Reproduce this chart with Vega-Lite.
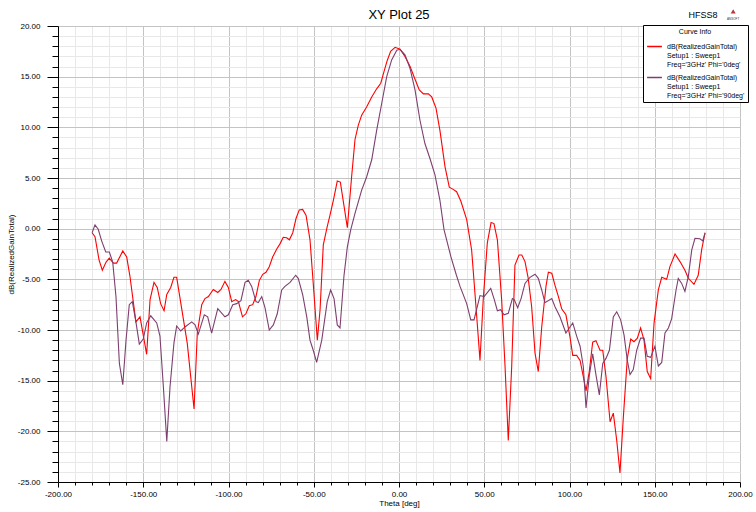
{
  "$schema": "https://vega.github.io/schema/vega-lite/v6.json",
  "width": 682,
  "height": 456,
  "autosize": {"type": "none"},
  "padding": {"left": 58, "top": 26, "right": 16, "bottom": 30},
  "background": "#ffffff",
  "config": {
    "view": {"stroke": null},
    "font": "Liberation Sans",
    "axis": {"labelFont": "Liberation Sans", "titleFont": "Liberation Sans", "labelColor": "#000000", "titleColor": "#000000", "titleFontWeight": "normal", "domainColor": "#000000", "tickColor": "#000000", "labelOverlap": false, "labelFlush": false}
  },
  "datasets": {
    "phi0": [
      {"theta":-180,"gain":-0.4},{"theta":-178.3,"gain":-0.8},{"theta":-175.9,"gain":-3.1},{"theta":-174,"gain":-4.1},{"theta":-171.8,"gain":-3.3},{"theta":-169.9,"gain":-2.9},{"theta":-167.5,"gain":-3.4},{"theta":-165.6,"gain":-3.4},{"theta":-162,"gain":-2.2},{"theta":-159.7,"gain":-2.8},{"theta":-157.8,"gain":-4.7},{"theta":-154.3,"gain":-9.2},{"theta":-151.9,"gain":-8.7},{"theta":-148,"gain":-12.4},{"theta":-146,"gain":-7.0},{"theta":-143.7,"gain":-5.3},{"theta":-141.8,"gain":-5.8},{"theta":-139.8,"gain":-7.4},{"theta":-137.8,"gain":-8.1},{"theta":-136.2,"gain":-6.5},{"theta":-133.9,"gain":-5.8},{"theta":-132,"gain":-4.8},{"theta":-130.4,"gain":-4.8},{"theta":-124.2,"gain":-11.3},{"theta":-120.2,"gain":-17.8},{"theta":-118.3,"gain":-10.3},{"theta":-115.7,"gain":-7.5},{"theta":-113.8,"gain":-6.9},{"theta":-111.8,"gain":-6.7},{"theta":-108.9,"gain":-6.0},{"theta":-106.3,"gain":-6.3},{"theta":-104.4,"gain":-6.0},{"theta":-102.1,"gain":-5.2},{"theta":-100.1,"gain":-5.8},{"theta":-98.1,"gain":-7.2},{"theta":-95.8,"gain":-7.0},{"theta":-94.2,"gain":-7.2},{"theta":-91.8,"gain":-8.7},{"theta":-89.8,"gain":-8.4},{"theta":-87.8,"gain":-7.6},{"theta":-85.8,"gain":-7.5},{"theta":-83.9,"gain":-6.7},{"theta":-81.9,"gain":-5.1},{"theta":-79.9,"gain":-4.5},{"theta":-78,"gain":-4.3},{"theta":-76.1,"gain":-3.75},{"theta":-74.1,"gain":-2.8},{"theta":-71.7,"gain":-2.0},{"theta":-69.8,"gain":-1.5},{"theta":-67.9,"gain":-0.85},{"theta":-65.9,"gain":-0.9},{"theta":-64.3,"gain":-1.1},{"theta":-62.3,"gain":-0.4},{"theta":-60.4,"gain":1.0},{"theta":-58.5,"gain":1.85},{"theta":-56.5,"gain":1.9},{"theta":-54.5,"gain":1.3},{"theta":-52.2,"gain":-1.1},{"theta":-50.3,"gain":-5.4},{"theta":-47.9,"gain":-11.0},{"theta":-46.3,"gain":-8.0},{"theta":-44.4,"gain":-1.6},{"theta":-42.1,"gain":0.2},{"theta":-40.5,"gain":1.3},{"theta":-38.5,"gain":2.8},{"theta":-36.2,"gain":4.7},{"theta":-34.4,"gain":4.6},{"theta":-32.3,"gain":2.3},{"theta":-30.3,"gain":0.1},{"theta":-27.8,"gain":5.1},{"theta":-25.8,"gain":8.8},{"theta":-23.9,"gain":10.2},{"theta":-21.9,"gain":11.2},{"theta":-19,"gain":12.0},{"theta":-16,"gain":13.0},{"theta":-13.1,"gain":13.8},{"theta":-10.7,"gain":14.35},{"theta":-8.8,"gain":15.5},{"theta":-6.9,"gain":16.6},{"theta":-4.9,"gain":17.5},{"theta":-2.3,"gain":17.9},{"theta":0.6,"gain":17.7},{"theta":3.5,"gain":17.0},{"theta":6.5,"gain":16.0},{"theta":9.4,"gain":14.75},{"theta":11.9,"gain":13.7},{"theta":14.3,"gain":13.3},{"theta":17.2,"gain":13.3},{"theta":19.2,"gain":13.0},{"theta":21.7,"gain":11.9},{"theta":24,"gain":9.7},{"theta":27,"gain":6.1},{"theta":29.5,"gain":4.1},{"theta":31.5,"gain":3.9},{"theta":33.8,"gain":3.65},{"theta":36.3,"gain":2.7},{"theta":39.7,"gain":0.9},{"theta":42.6,"gain":-2.1},{"theta":45.6,"gain":-8.7},{"theta":47.5,"gain":-13.0},{"theta":49.4,"gain":-7.0},{"theta":51.8,"gain":-1.4},{"theta":54,"gain":0.6},{"theta":55.7,"gain":0.5},{"theta":57.7,"gain":-1.1},{"theta":60.2,"gain":-7.0},{"theta":62.2,"gain":-13.6},{"theta":64.1,"gain":-20.9},{"theta":66.1,"gain":-13.6},{"theta":68,"gain":-3.6},{"theta":70.4,"gain":-2.6},{"theta":72,"gain":-2.6},{"theta":73.9,"gain":-3.25},{"theta":75.8,"gain":-4.9},{"theta":77.8,"gain":-7.7},{"theta":79.8,"gain":-12.3},{"theta":81.7,"gain":-14.1},{"theta":83.7,"gain":-9.7},{"theta":86.2,"gain":-5.7},{"theta":87.6,"gain":-4.3},{"theta":89.6,"gain":-4.4},{"theta":91.5,"gain":-5.6},{"theta":93.5,"gain":-6.7},{"theta":95.4,"gain":-7.9},{"theta":97.9,"gain":-8.5},{"theta":100.3,"gain":-10.7},{"theta":101.9,"gain":-12.5},{"theta":104.2,"gain":-12.5},{"theta":106.2,"gain":-13.0},{"theta":108.1,"gain":-14.6},{"theta":109.7,"gain":-16.0},{"theta":111.6,"gain":-14.1},{"theta":113.6,"gain":-11.2},{"theta":115.5,"gain":-11.05},{"theta":117.9,"gain":-12.0},{"theta":119.5,"gain":-12.0},{"theta":121.4,"gain":-14.6},{"theta":123.8,"gain":-19.05},{"theta":125.7,"gain":-18.2},{"theta":127.7,"gain":-20.9},{"theta":129.6,"gain":-24.1},{"theta":131.6,"gain":-18.55},{"theta":133.9,"gain":-12.8},{"theta":135.9,"gain":-10.9},{"theta":137.8,"gain":-11.15},{"theta":139.8,"gain":-10.8},{"theta":141.7,"gain":-9.8},{"theta":143.7,"gain":-11.0},{"theta":145.6,"gain":-14.1},{"theta":147.6,"gain":-14.8},{"theta":149.6,"gain":-9.3},{"theta":152.1,"gain":-6.05},{"theta":154.1,"gain":-4.8},{"theta":157,"gain":-5.0},{"theta":158.9,"gain":-3.75},{"theta":161.9,"gain":-2.5},{"theta":164.8,"gain":-3.25},{"theta":167.7,"gain":-4.1},{"theta":169.7,"gain":-4.9},{"theta":173,"gain":-5.5},{"theta":175.5,"gain":-4.6},{"theta":177.5,"gain":-2.1},{"theta":179.5,"gain":-0.4}
    ],
    "phi90": [
      {"theta":-180,"gain":-0.4},{"theta":-178.3,"gain":0.37},{"theta":-176.4,"gain":-0.06},{"theta":-174.4,"gain":-1.2},{"theta":-172,"gain":-2.3},{"theta":-169.9,"gain":-2.3},{"theta":-167.9,"gain":-3.3},{"theta":-166,"gain":-6.7},{"theta":-164,"gain":-13.3},{"theta":-162,"gain":-15.4},{"theta":-160.1,"gain":-11.0},{"theta":-158.2,"gain":-7.5},{"theta":-156.4,"gain":-7.2},{"theta":-154.3,"gain":-9.2},{"theta":-152.3,"gain":-11.4},{"theta":-150,"gain":-10.9},{"theta":-148,"gain":-9.3},{"theta":-145.6,"gain":-8.6},{"theta":-142.1,"gain":-9.3},{"theta":-140.2,"gain":-10.6},{"theta":-138.2,"gain":-15.6},{"theta":-136.2,"gain":-21.0},{"theta":-134.3,"gain":-15.6},{"theta":-132,"gain":-11.3},{"theta":-130.4,"gain":-9.6},{"theta":-128,"gain":-10.1},{"theta":-125.5,"gain":-9.7},{"theta":-121.6,"gain":-9.2},{"theta":-119.6,"gain":-9.5},{"theta":-117.7,"gain":-10.4},{"theta":-114.2,"gain":-8.5},{"theta":-112.2,"gain":-8.7},{"theta":-109.9,"gain":-10.3},{"theta":-106.3,"gain":-7.9},{"theta":-102.1,"gain":-8.7},{"theta":-100.1,"gain":-8.5},{"theta":-97.5,"gain":-7.5},{"theta":-95.2,"gain":-7.4},{"theta":-92.7,"gain":-7.1},{"theta":-90.3,"gain":-5.3},{"theta":-88.4,"gain":-5.1},{"theta":-86.4,"gain":-5.7},{"theta":-83.9,"gain":-7.2},{"theta":-82.5,"gain":-7.3},{"theta":-80.5,"gain":-6.7},{"theta":-78.6,"gain":-7.8},{"theta":-76.1,"gain":-10.0},{"theta":-73.7,"gain":-9.5},{"theta":-71.4,"gain":-8.4},{"theta":-68.8,"gain":-6.05},{"theta":-66.9,"gain":-5.7},{"theta":-63.9,"gain":-5.3},{"theta":-60.6,"gain":-4.6},{"theta":-59.1,"gain":-4.9},{"theta":-56.5,"gain":-6.5},{"theta":-54.1,"gain":-8.7},{"theta":-52.2,"gain":-11.0},{"theta":-50.3,"gain":-12.0},{"theta":-48.3,"gain":-13.2},{"theta":-45.3,"gain":-11.0},{"theta":-42.1,"gain":-7.2},{"theta":-40.1,"gain":-6.05},{"theta":-38.1,"gain":-6.9},{"theta":-36.2,"gain":-9.5},{"theta":-34.6,"gain":-9.8},{"theta":-32.3,"gain":-4.7},{"theta":-30.3,"gain":-1.8},{"theta":-28.3,"gain":-0.1},{"theta":-25.8,"gain":1.5},{"theta":-21.9,"gain":3.8},{"theta":-19,"gain":5.1},{"theta":-16,"gain":6.8},{"theta":-13.1,"gain":9.7},{"theta":-10.1,"gain":12.4},{"theta":-7.2,"gain":15.0},{"theta":-4.3,"gain":16.65},{"theta":-1.3,"gain":17.6},{"theta":0.6,"gain":17.7},{"theta":3.5,"gain":17.15},{"theta":6.5,"gain":15.8},{"theta":9.4,"gain":13.7},{"theta":12.3,"gain":10.7},{"theta":15.2,"gain":8.4},{"theta":18.2,"gain":6.9},{"theta":21.1,"gain":5.3},{"theta":24,"gain":2.8},{"theta":26.4,"gain":-0.1},{"theta":30.5,"gain":-2.8},{"theta":33.5,"gain":-4.5},{"theta":35.8,"gain":-5.7},{"theta":39.7,"gain":-7.4},{"theta":42.1,"gain":-9.0},{"theta":44,"gain":-9.0},{"theta":47.5,"gain":-6.6},{"theta":49.9,"gain":-6.7},{"theta":53.8,"gain":-5.9},{"theta":55.9,"gain":-7.0},{"theta":57.7,"gain":-8.1},{"theta":59.6,"gain":-8.0},{"theta":61.6,"gain":-8.5},{"theta":64.1,"gain":-8.35},{"theta":66.5,"gain":-6.9},{"theta":67.6,"gain":-7.0},{"theta":69.6,"gain":-7.8},{"theta":71.6,"gain":-6.9},{"theta":73.9,"gain":-5.4},{"theta":76.8,"gain":-4.8},{"theta":79.8,"gain":-4.5},{"theta":81.7,"gain":-4.9},{"theta":83.7,"gain":-6.05},{"theta":85.6,"gain":-7.3},{"theta":89.6,"gain":-6.9},{"theta":91.5,"gain":-7.7},{"theta":94.4,"gain":-8.7},{"theta":97.9,"gain":-10.3},{"theta":100.3,"gain":-9.7},{"theta":101.9,"gain":-9.3},{"theta":104.2,"gain":-10.6},{"theta":106.2,"gain":-11.6},{"theta":108.1,"gain":-13.6},{"theta":109.7,"gain":-17.7},{"theta":111.6,"gain":-14.5},{"theta":113.6,"gain":-12.35},{"theta":115.5,"gain":-14.4},{"theta":117.5,"gain":-16.4},{"theta":119.5,"gain":-13.3},{"theta":121.4,"gain":-12.8},{"theta":123.4,"gain":-12.0},{"theta":125.7,"gain":-8.7},{"theta":127.7,"gain":-8.2},{"theta":130,"gain":-9.0},{"theta":132,"gain":-10.5},{"theta":133.9,"gain":-13.0},{"theta":135.5,"gain":-14.4},{"theta":137.4,"gain":-13.9},{"theta":139.4,"gain":-12.0},{"theta":141.7,"gain":-10.8},{"theta":143.7,"gain":-10.8},{"theta":145.6,"gain":-12.6},{"theta":147.6,"gain":-12.7},{"theta":150.1,"gain":-11.6},{"theta":152.1,"gain":-13.55},{"theta":154.1,"gain":-13.2},{"theta":156,"gain":-10.3},{"theta":158,"gain":-9.8},{"theta":159.9,"gain":-8.9},{"theta":162.5,"gain":-6.05},{"theta":163.8,"gain":-4.9},{"theta":165.8,"gain":-5.4},{"theta":167.7,"gain":-6.2},{"theta":169.7,"gain":-4.7},{"theta":171.7,"gain":-2.1},{"theta":173.6,"gain":-0.95},{"theta":176.5,"gain":-1.0},{"theta":178.1,"gain":-1.2},{"theta":179.5,"gain":-0.45}
    ]
  },
  "encoding": {
    "x": {
      "type": "quantitative",
      "scale": {"domain": [-200, 200], "nice": false, "zero": false},
      "axis": {
        "title": "Theta [deg]", "titleFontSize": 8, "titlePadding": 1,
        "values": [-200,-190,-180,-170,-160,-150,-140,-130,-120,-110,-100,-90,-80,-70,-60,-50,-40,-30,-20,-10,0,10,20,30,40,50,60,70,80,90,100,110,120,130,140,150,160,170,180,190,200],
        "grid": true,
        "gridColor": {"condition": {"test": "datum.value % 50 === 0", "value": "#c4c4c4"}, "value": "#e8e8e8"},
        "tickSize": {"condition": {"test": "datum.value % 50 === 0", "value": 5}, "value": 3},
        "labelExpr": "datum.value % 50 === 0 ? (datum.value < 0 ? '-' : '') + format(abs(datum.value), '.2f') : ''",
        "labelFontSize": 8, "labelPadding": 3
      }
    },
    "y": {
      "type": "quantitative",
      "scale": {"domain": [-25, 20], "nice": false, "zero": false},
      "axis": {
        "title": "dB(RealizedGainTotal)", "titleFontSize": 8, "titlePadding": 2,
        "values": [-25,-24,-23,-22,-21,-20,-19,-18,-17,-16,-15,-14,-13,-12,-11,-10,-9,-8,-7,-6,-5,-4,-3,-2,-1,0,1,2,3,4,5,6,7,8,9,10,11,12,13,14,15,16,17,18,19,20],
        "grid": true,
        "gridColor": {"condition": {"test": "datum.value % 5 === 0", "value": "#c4c4c4"}, "value": "#e8e8e8"},
        "tickSize": {"condition": {"test": "datum.value % 5 === 0", "value": 11}, "value": 6},
        "labelExpr": "datum.value % 5 === 0 ? (datum.value < 0 ? '-' : '') + format(abs(datum.value), '.2f') : ''",
        "labelFontSize": 8, "labelPadding": 7
      }
    }
  },
  "layer": [
    {
      "data": {"name": "phi0"},
      "mark": {"type": "line", "strokeWidth": 1.1},
      "encoding": {
        "x": {"field": "theta", "type": "quantitative"},
        "y": {"field": "gain", "type": "quantitative"},
        "color": {
          "datum": "Freq='3GHz' Phi='0deg'",
          "type": "nominal",
          "scale": {"domain": ["Freq='3GHz' Phi='0deg'", "Freq='3GHz' Phi='90deg'"], "range": ["#ff0000", "#7e3f6e"]},
          "legend": {
            "orient": "none", "legendX": 585, "legendY": -1,
            "title": "Curve Info", "titleFontSize": 7, "titleFont": "Liberation Sans", "titleFontWeight": "normal", "titleColor": "#000000", "titleAnchor": "middle", "titlePadding": 3,
            "labelFontSize": 7, "labelFont": "Liberation Sans", "labelColor": "#000000",
            "labelExpr": "['dB(RealizedGainTotal)', 'Setup1 : Sweep1', datum.label]",
            "symbolType": "stroke", "symbolSize": 220, "symbolStrokeWidth": 1.5,
            "strokeColor": "#000000", "fillColor": "#ffffff", "padding": 3, "rowPadding": 1, "cornerRadius": 0
          }
        }
      }
    },
    {
      "data": {"name": "phi90"},
      "mark": {"type": "line", "strokeWidth": 1.1},
      "encoding": {
        "x": {"field": "theta", "type": "quantitative"},
        "y": {"field": "gain", "type": "quantitative"},
        "color": {"datum": "Freq='3GHz' Phi='90deg'", "type": "nominal"}
      }
    },
    {
      "data": {"values": [{}]},
      "mark": {"type": "text", "text": "XY Plot 25", "fontSize": 13, "font": "Liberation Sans", "align": "center", "baseline": "middle", "color": "#000000"},
      "encoding": {"x": {"datum": 0}, "y": {"datum": 21.05}}
    },
    {
      "data": {"values": [{}]},
      "mark": {"type": "text", "text": "HFSS8", "fontSize": 9, "font": "Liberation Sans", "align": "center", "baseline": "middle", "color": "#000000"},
      "encoding": {"x": {"datum": 178.3}, "y": {"datum": 21.1}}
    },
    {
      "data": {"values": [{}]},
      "mark": {"type": "point", "shape": "triangle-up", "filled": true, "size": 25, "color": "#b83a3a", "opacity": 1},
      "encoding": {"x": {"datum": 196}, "y": {"datum": 21.45}}
    },
    {
      "data": {"values": [{}]},
      "mark": {"type": "text", "text": "ANSOFT", "fontSize": 3, "font": "Liberation Sans", "align": "center", "baseline": "middle", "color": "#333333"},
      "encoding": {"x": {"datum": 196}, "y": {"datum": 20.75}}
    }
  ]
}
